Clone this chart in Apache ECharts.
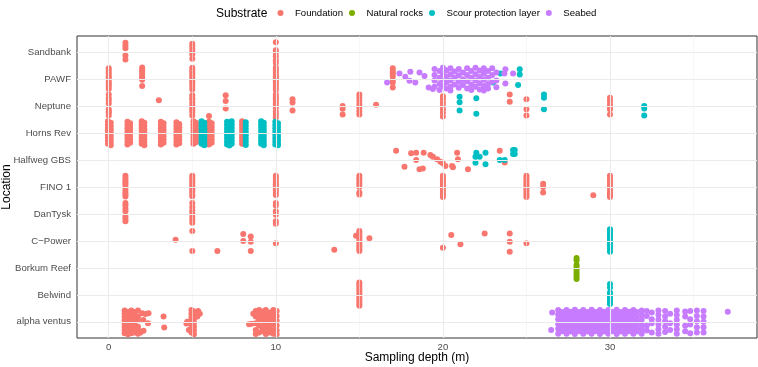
<!DOCTYPE html>
<html>
<head>
<meta charset="utf-8">
<script src="https://cdn.jsdelivr.net/npm/echarts@6/dist/echarts.min.js"></script>
<style>
  html, body { margin: 0; padding: 0; background: #fff; }
  #chart { width: 758px; height: 367px; }
</style>
</head>
<body>
<div id="chart"></div>
<script>
// locations from bottom (index 0) to top
const locations = ['alpha ventus', 'Belwind', 'Borkum Reef', 'C\u2212Power', 'DanTysk', 'FINO 1',
  'Halfweg GBS', 'Horns Rev', 'Neptune', 'PAWF', 'Sandbank']
const xTicks = [0, 10, 20, 30]
const xMinorGrid = [5, 15, 25, 35]

// each entry: [location, depth (or list of depths), vertical jitter of each point]
const foundation = [
  ['Sandbank', 1, [0.35, 0.25, 0.15, -0.12, -0.27]],
  ['Sandbank', 5, [0.31, 0.22, 0.12, 0.02, -0.08, -0.24]],
  ['Sandbank', 10, [0.37, 0.07, -0.02, -0.15, -0.3, -0.4]],
  ['PAWF', 0, [0.4, 0.31, 0.22, 0.13, 0.06, -0.03, -0.12, -0.2, -0.28, -0.37]],
  ['PAWF', 2, [0.43, 0.36, 0.28, 0.2, 0.12, 0.05, -0.02, -0.25]],
  ['PAWF', 5, [0.42, 0.33, 0.25, 0.16, 0.08, 0, -0.08, -0.17, -0.27, -0.38]],
  ['PAWF', 10, [0.43, 0.35, 0.27, 0.19, 0.11, 0.03, -0.05, -0.13, -0.22, -0.32, -0.4]],
  ['PAWF', 17, [0.4, 0.3, 0.22, 0.12, -0.03, -0.12, -0.31]],
  ['Neptune', 0, [0.43, 0.3, 0.21, 0.1, -0.12, -0.2, -0.25, -0.35]],
  ['Neptune', 3, [0.22]],
  ['Neptune', 5, [0.4, 0.3, 0.25, 0.13, 0.02, -0.06, -0.14, -0.22, -0.35]],
  ['Neptune', 6, [-0.37]],
  ['Neptune', 7, [0.4, 0.19, -0.09]],
  ['Neptune', 10, [0.43, 0.33, 0.25, 0.15, 0.06, -0.05, -0.2, -0.31, -0.42]],
  ['Neptune', 11, [0.25, 0.13, -0.16]],
  ['Neptune', 14, [0, -0.1, -0.31]],
  ['Neptune', 15, [0.43, 0.31, 0.19, 0.06, -0.06, -0.19, -0.31]],
  ['Neptune', 16, [0.05]],
  ['Neptune', 20, [0.37, 0.25, 0.12, 0, -0.12, -0.25, -0.39]],
  ['Neptune', 24, [0.43, 0.16]],
  ['Neptune', 25, [0.25, -0.12, -0.35]],
  ['Neptune', 30, [0.31, 0.19, 0.06, -0.04, -0.12, -0.31]],
  ['Horns Rev', -0.05, [0.44, 0.32, 0.2, 0.08, -0.04, -0.16, -0.28, -0.4]],
  ['Horns Rev', 0.12, [0.38, 0.26, 0.14, 0.02, -0.1, -0.22, -0.34, -0.45]],
  ['Horns Rev', 1.12, [0.42, 0.3, 0.18, 0.06, -0.06, -0.18, -0.3, -0.42]],
  ['Horns Rev', 1.28, [0.36, 0.24, 0.12, 0, -0.12, -0.24, -0.36]],
  ['Horns Rev', 1.97, [0.44, 0.32, 0.2, 0.08, -0.04, -0.16, -0.28, -0.4]],
  ['Horns Rev', 2.13, [0.38, 0.26, 0.14, 0.02, -0.1, -0.22, -0.34, -0.45]],
  ['Horns Rev', 3.12, [0.42, 0.3, 0.18, 0.06, -0.06, -0.18, -0.3, -0.42]],
  ['Horns Rev', 3.28, [0.36, 0.24, 0.12, 0, -0.12, -0.24, -0.36]],
  ['Horns Rev', 4.05, [0.4, 0.28, 0.16, 0.04, -0.08, -0.2, -0.32, -0.42]],
  ['Horns Rev', 4.22, [0.34, 0.22, 0.1, -0.02, -0.14, -0.26, -0.38]],
  ['Horns Rev', 5.07, [0.44, 0.32, 0.2, 0.08, -0.04, -0.16, -0.28, -0.4]],
  ['Horns Rev', 5.22, [0.38, 0.26, 0.14, 0.02, -0.1, -0.22, -0.34]],
  ['Horns Rev', 6.0, [0.42, 0.3, 0.18, 0.06, -0.06, -0.18, -0.3, -0.42]],
  ['Horns Rev', 6.16, [0.36, 0.24, 0.12, 0, -0.12, -0.24, -0.36]],
  ['Horns Rev', 7.98, [0.44, 0.32, 0.2, 0.08, -0.04, -0.16, -0.28, -0.4]],
  ['Halfweg GBS',
    [17.2, 17.7, 18.1, 18.4, 18.4, 18.6, 18.8, 18.85, 19.25, 19.4, 19.65, 19.85, 20.0, 20.15, 20.55, 20.6, 20.85, 20.9, 21.5, 23.4, 23.7],
    [0.34, -0.25, 0.25, 0.27, 0, -0.34, -0.31, 0.27, 0.19, 0.12, 0.03, -0.06, -0.12, -0.22, -0.22, -0.27, 0.27, 0.03, -0.34, 0.34, -0.09]],
  ['FINO 1', 1, [0.42, 0.33, 0.24, 0.17, 0.09, 0, -0.1, -0.2, -0.28, -0.35]],
  ['FINO 1', 5, [0.42, 0.35, 0.27, 0.2, 0.12, 0.05, -0.03, -0.1, -0.18, -0.26, -0.34]],
  ['FINO 1', 10, [0.42, 0.34, 0.26, 0.18, 0.1, 0.02, -0.06, -0.14, -0.22, -0.3]],
  ['FINO 1', 15, [0.42, 0.33, 0.27, 0.17, 0.09, 0, -0.2, -0.28]],
  ['FINO 1', 20, [0.42, 0.35, 0.27, 0.19, 0.11, 0.03, -0.05, -0.13, -0.21, -0.29, -0.37]],
  ['FINO 1', 25, [0.42, 0.34, 0.26, 0.18, 0.1, 0.02, -0.06, -0.14, -0.22, -0.3, -0.37]],
  ['FINO 1', 26, [0.12, 0, -0.2]],
  ['FINO 1', 29, [-0.31]],
  ['FINO 1', 30, [0.42, 0.34, 0.26, 0.18, 0.1, 0.0, -0.1, -0.2, -0.25, -0.32, -0.37]],
  ['DanTysk', 1, [0.41, 0.31, 0.19, 0.1, -0.09, -0.19, -0.27]],
  ['DanTysk', 5, [0.41, 0.26, 0.13, 0.04, -0.09, -0.21, -0.33]],
  ['DanTysk', 10, [0.41, 0.31, 0.1, -0.03, -0.27, -0.36]],
  ['C\u2212Power', 4, [0.04]],
  ['C\u2212Power', 5, [0.37, -0.37]],
  ['C\u2212Power', 6.5, [-0.37]],
  ['C\u2212Power', 8.05, [0.26, 0]],
  ['C\u2212Power', 8.5, [0.16, -0.03, -0.37]],
  ['C\u2212Power', 10, [-0.09]],
  ['C\u2212Power', 13.5, [-0.33]],
  ['C\u2212Power', 14.8, [0.19]],
  ['C\u2212Power', 15, [0.37, 0.3, 0.22, 0.15, 0.07, 0, -0.07, -0.15, -0.22, -0.3, -0.37]],
  ['C\u2212Power', 15.6, [0.1]],
  ['C\u2212Power', [20, 20.5, 21.05, 22.5], [-0.25, 0.22, -0.12, 0.28]],
  ['C\u2212Power', 24, [0.28, -0.03, -0.4]],
  ['C\u2212Power', 25, [-0.09]],
  ['Belwind', 15, [0.46, 0.38, 0.3, 0.22, 0.14, 0.06, -0.02, -0.1, -0.18, -0.26, -0.34, -0.4]],
  ['alpha ventus', 0.95, [0.42, 0.3, 0.18, 0.06, -0.06, -0.18, -0.3, -0.42]],
  ['alpha ventus', 1.15, [0.36, 0.24, 0.12, 0, -0.12, -0.24, -0.36, -0.46]],
  ['alpha ventus', 1.35, [0.42, 0.3, 0.18, 0.06, -0.06, -0.18, -0.3, -0.42]],
  ['alpha ventus', 1.55, [0.36, 0.24, 0.12, 0, -0.12, -0.24, -0.4]],
  ['alpha ventus', 1.75, [0.42, 0.2, 0.06, -0.18, -0.3, -0.44]],
  ['alpha ventus', [2.0, 2.2, 2.38, 2.35, 2.07, 2.08, 3.28, 3.32, 1.9], [0.32, 0.29, 0.32, -0.05, 0.07, -0.33, 0.2, -0.21, -0.4]],
  ['alpha ventus', 4.95, [0.44, 0.3, 0.16, 0.02, -0.12, -0.26, -0.4]],
  ['alpha ventus', 5.1, [0.38, 0.24, 0.1, -0.04, -0.18, -0.32, -0.46]],
  ['alpha ventus', [5.35, 5.45, 5.3, 4.7, 4.65, 4.8], [0.4, 0.3, 0.2, 0.0, -0.06, -0.3]],
  ['alpha ventus', 8.8, [0.4, 0.2, -0.05, -0.3, -0.45]],
  ['alpha ventus', 9.0, [0.44, 0.3, 0.1, -0.15, -0.4]],
  ['alpha ventus', 9.2, [0.38, 0.2, 0.0, -0.2, -0.35]],
  ['alpha ventus', 9.4, [0.44, 0.28, 0.12, -0.08, -0.28, -0.45]],
  ['alpha ventus', 9.6, [0.35, 0.15, -0.02, -0.22, -0.4]],
  ['alpha ventus', 9.85, [0.44, 0.26, 0.1, -0.1, -0.3, -0.44]],
  ['alpha ventus', 10.05, [0.4, 0.22, 0.04, -0.14, -0.32, -0.46]],
  ['alpha ventus', [8.4, 8.55, 8.65], [-0.09, -0.07, 0.3]]
]

const naturalRocks = [
  ['Borkum Reef', 28, [0.37, 0.28, 0.12, 0.04, -0.06, -0.16, -0.25, -0.33, -0.41]]
]

const scourProtection = [
  ['PAWF', [23.0, 23.45, 24.6, 24.6, 24.5], [-0.12, 0.21, 0.37, 0.17, -0.22]],
  ['Neptune', 21, [0.35, 0.14, -0.16]],
  ['Neptune', 22, [0.29, -0.28]],
  ['Neptune', 26.05, [0.43, 0.31, -0.12]],
  ['Neptune', 32.05, [0, -0.09, -0.35]],
  ['Horns Rev', 5.55, [0.44, 0.32, 0.2, 0.08, -0.04, -0.16, -0.28, -0.4]],
  ['Horns Rev', 5.72, [0.38, 0.26, 0.14, 0.02, -0.1, -0.22, -0.34, -0.45]],
  ['Horns Rev', 7.08, [0.42, 0.3, 0.18, 0.06, -0.06, -0.18, -0.3, -0.42]],
  ['Horns Rev', 7.22, [0.36, 0.24, 0.12, 0, -0.12, -0.24, -0.36, -0.46]],
  ['Horns Rev', 7.36, [0.44, 0.32, 0.2, 0.08, -0.04, -0.16, -0.28, -0.4]],
  ['Horns Rev', 8.2, [0.4, 0.28, 0.16, 0.04, -0.08, -0.2, -0.32, -0.44]],
  ['Horns Rev', 9.12, [0.44, 0.32, 0.2, 0.08, -0.04, -0.16, -0.28, -0.4]],
  ['Horns Rev', 9.28, [0.38, 0.26, 0.14, 0.02, -0.1, -0.22, -0.34, -0.45]],
  ['Horns Rev', 9.97, [0.42, 0.3, 0.18, 0.06, -0.06, -0.18, -0.3, -0.42]],
  ['Horns Rev', 10.13, [0.36, 0.24, 0.12, 0, -0.12, -0.24, -0.36, -0.45]],
  ['Halfweg GBS',
    [22.0, 21.95, 22.2, 22.55, 21.95, 22.55, 23.4, 23.7, 24.2, 24.3, 24.2, 24.3],
    [0.27, 0.12, 0.12, 0.27, -0.1, -0.16, 0.0, 0.0, 0.37, 0.37, 0.22, 0.22]],
  ['C\u2212Power', 30, [0.43, 0.35, 0.27, 0.19, 0.11, 0.03, -0.05, -0.13, -0.21, -0.3, -0.4]],
  ['Belwind', 30, [0.4, 0.27, 0.09, -0.01, -0.1, -0.19, -0.28, -0.34]]
]

const seabed = [
  ['PAWF',
    [16.66, 17.4, 17.75, 18.05, 18.0, 18.35, 18.6, 18.9, 19.15, 19.4],
    [-0.12, 0.21, 0.09, 0.27, -0.06, -0.12, 0.25, 0.12, -0.31, -0.37]],
  ['PAWF', 19.5, [0.38, 0.15, -0.05, -0.28]],
  ['PAWF', 19.8, [0.3, 0.05, -0.18, -0.4]],
  ['PAWF', 20.0, [0.42, 0.2, -0.02, -0.25]],
  ['PAWF', 20.2, [0.33, 0.1, -0.12, -0.35]],
  ['PAWF', 20.45, [0.4, 0.18, -0.05, -0.28, -0.42]],
  ['PAWF', 20.7, [0.28, 0.05, -0.2]],
  ['PAWF', 20.95, [0.38, 0.14, -0.1, -0.32]],
  ['PAWF', 21.2, [0.25, 0.0, -0.22]],
  ['PAWF', 21.45, [0.4, 0.15, -0.08, -0.35]],
  ['PAWF', 21.7, [0.3, 0.05, -0.2, -0.4]],
  ['PAWF', 21.95, [0.42, 0.18, -0.05, -0.28]],
  ['PAWF', 22.2, [0.32, 0.08, -0.15, -0.38]],
  ['PAWF', 22.45, [0.4, 0.2, -0.02, -0.25, -0.42]],
  ['PAWF', 22.7, [0.3, 0.05, -0.18, -0.35]],
  ['PAWF', 22.95, [0.4, 0.15, -0.1]],
  ['PAWF', 23.2, [0.25, -0.05, -0.3]],
  ['PAWF', [23.74, 23.68, 24.2, 23.74], [0.37, 0.21, 0.21, -0.16]],
  ['alpha ventus', [26.54, 26.48], [0.35, -0.3]],
  ['alpha ventus', 26.9, [0.44, 0.27, 0.1, -0.08, -0.26, -0.44]],
  ['alpha ventus', 27.15, [0.36, 0.18, 0.01, -0.17, -0.35]],
  ['alpha ventus', 27.4, [0.44, 0.27, 0.1, -0.08, -0.26, -0.44]],
  ['alpha ventus', 27.65, [0.37, 0.19, 0.01, -0.17, -0.36]],
  ['alpha ventus', 27.9, [0.45, 0.27, 0.09, -0.08, -0.26, -0.45]],
  ['alpha ventus', 28.15, [0.36, 0.18, 0.0, -0.18, -0.35]],
  ['alpha ventus', 28.4, [0.44, 0.26, 0.1, -0.09, -0.27, -0.44]],
  ['alpha ventus', 28.65, [0.36, 0.18, 0.01, -0.17, -0.36]],
  ['alpha ventus', 28.9, [0.45, 0.27, 0.1, -0.08, -0.26, -0.44]],
  ['alpha ventus', 29.15, [0.36, 0.19, 0.01, -0.17, -0.35]],
  ['alpha ventus', 29.4, [0.44, 0.27, 0.09, -0.08, -0.27, -0.45]],
  ['alpha ventus', 29.65, [0.37, 0.18, 0.0, -0.17, -0.36]],
  ['alpha ventus', 29.9, [0.44, 0.26, 0.1, -0.08, -0.26, -0.44]],
  ['alpha ventus', 30.15, [0.36, 0.18, 0.01, -0.18, -0.35]],
  ['alpha ventus', 30.4, [0.45, 0.27, 0.1, -0.09, -0.26, -0.45]],
  ['alpha ventus', 30.65, [0.36, 0.19, 0.0, -0.17, -0.36]],
  ['alpha ventus', 30.9, [0.44, 0.27, 0.09, -0.08, -0.26, -0.44]],
  ['alpha ventus', 31.15, [0.37, 0.18, 0.01, -0.17, -0.35]],
  ['alpha ventus', 31.4, [0.44, 0.26, 0.1, -0.08, -0.27, -0.44]],
  ['alpha ventus', 31.6, [0.36, 0.18, 0.0, -0.18, -0.36]],
  ['alpha ventus', 31.9, [0.42, 0.25, 0.08, -0.1, -0.28, -0.44]],
  ['alpha ventus', 32.2, [0.4, 0.22, -0.15, -0.32]],
  ['alpha ventus', 32.5, [0.35, 0.1, -0.05, -0.4]],
  ['alpha ventus', 32.9, [0.42, 0.25, 0.08, -0.1, -0.28, -0.44]],
  ['alpha ventus', 33.3, [0.4, 0.2, 0.02, -0.18, -0.38]],
  ['alpha ventus', 33.6, [0.3, -0.05, -0.3]],
  ['alpha ventus', 34.0, [0.42, 0.25, 0.08, -0.1, -0.28, -0.44]],
  ['alpha ventus', 34.5, [0.38, 0.2, -0.15, -0.35]],
  ['alpha ventus', 34.8, [0.4, 0.1, -0.1, -0.42]],
  ['alpha ventus', 35.2, [0.42, 0.22, 0.02, -0.2, -0.4]],
  ['alpha ventus', 35.6, [0.4, 0.2, 0.0, -0.2, -0.4]],
  ['alpha ventus', 37.05, [0.37]]
]

function toPoints (entries) {
  const pts = []
  entries.forEach(([loc, d, offs]) => {
    const y = locations.indexOf(loc)
    offs.forEach((o, i) => pts.push([Array.isArray(d) ? d[i] : d, y + o]))
  })
  return pts
}

const FONT = 'Liberation Sans, Arial, sans-serif'
const gridMajor = { color: '#ebebeb', width: 1.1, type: 'solid' }
const gridMinor = { color: '#f2f2f2', width: 0.6, type: 'solid' }

const gridLines = []
xTicks.forEach(v => gridLines.push({ xAxis: v, lineStyle: gridMajor }))
xMinorGrid.forEach(v => gridLines.push({ xAxis: v, lineStyle: gridMinor }))
locations.forEach((n, i) => gridLines.push({ yAxis: i, lineStyle: gridMajor }))

const chart = echarts.init(document.getElementById('chart'), null, { renderer: 'canvas' })
chart.setOption({
  animation: false,
  textStyle: { fontFamily: FONT },
  grid: { left: 77, right: 1, top: 36, bottom: 29, show: true, borderColor: '#333333', borderWidth: 1, backgroundColor: 'transparent' },
  legend: {
    data: ['Foundation', 'Natural rocks', 'Scour protection layer', 'Seabed'],
    left: 272.5,
    top: 3,
    icon: 'circle',
    itemWidth: 19,
    itemHeight: 6,
    itemGap: 6,
    selectedMode: false,
    textStyle: { fontSize: 9.6, color: '#000', fontFamily: FONT }
  },
  xAxis: {
    type: 'value',
    min: -1.9,
    max: 38.8,
    axisLine: { show: false },
    axisTick: { show: true, length: 3, customValues: xTicks, lineStyle: { color: '#333333' } },
    axisLabel: { customValues: xTicks, color: '#4d4d4d', fontSize: 9.6, margin: 4, fontFamily: FONT },
    splitLine: { show: false }
  },
  yAxis: {
    type: 'value',
    min: -0.6,
    max: 10.6,
    axisLine: { show: false },
    axisTick: { show: true, length: 3, customValues: locations.map((n, i) => i), lineStyle: { color: '#333333' } },
    axisLabel: {
      customValues: locations.map((n, i) => i),
      formatter: v => locations[Math.round(v)],
      color: '#4d4d4d',
      fontSize: 9.6,
      margin: 6,
      fontFamily: FONT
    },
    splitLine: { show: false }
  },
  graphic: [
    { type: 'text', x: 216, y: 14, style: { text: 'Substrate', fontSize: 12, fontFamily: FONT, fill: '#000', verticalAlign: 'middle' } },
    { type: 'text', x: 417, y: 358, style: { text: 'Sampling depth (m)', fontSize: 12, fontFamily: FONT, fill: '#000', align: 'center', verticalAlign: 'middle' } },
    { type: 'text', x: 7, y: 187, rotation: Math.PI / 2, style: { text: 'Location', fontSize: 12, fontFamily: FONT, fill: '#000', align: 'center', verticalAlign: 'middle' } }
  ],
  series: [
    {
      type: 'scatter',
      name: 'grid',
      data: [],
      silent: true,
      z: 0,
      markLine: { silent: true, symbol: 'none', label: { show: false }, animation: false, data: gridLines }
    },
    { name: 'Foundation', type: 'scatter', symbolSize: 6, itemStyle: { color: '#F8766D', opacity: 1 }, data: toPoints(foundation), z: 2 },
    { name: 'Natural rocks', type: 'scatter', symbolSize: 6, itemStyle: { color: '#7CAE00', opacity: 1 }, data: toPoints(naturalRocks), z: 2 },
    { name: 'Scour protection layer', type: 'scatter', symbolSize: 6, itemStyle: { color: '#00BFC4', opacity: 1 }, data: toPoints(scourProtection), z: 2 },
    { name: 'Seabed', type: 'scatter', symbolSize: 6, itemStyle: { color: '#C77CFF', opacity: 1 }, data: toPoints(seabed), z: 2 }
  ]
})
</script>
</body>
</html>
